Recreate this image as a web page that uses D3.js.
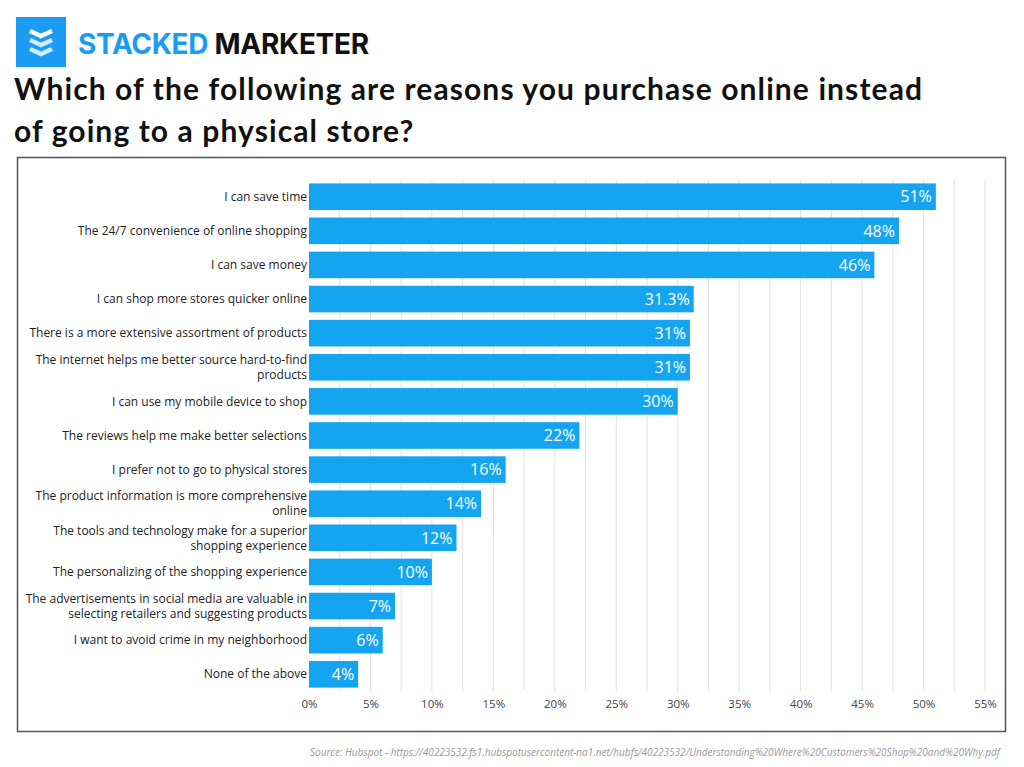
<!DOCTYPE html>
<html lang="en">
<head>
  <meta charset="UTF-8">
  <title>Reasons to purchase online</title>
  <style>
    body { margin: 0; background: #fff; font-family: "Open Sans", sans-serif; }
  </style>
</head>
<body>
  <svg id="chart" width="1024" height="767"></svg>
  <script src="https://cdnjs.cloudflare.com/ajax/libs/d3/7.8.5/d3.min.js"></script>
  <script>
    const categories = [
      'I can save time',
      'The 24/7 convenience of online shopping',
      'I can save money',
      'I can shop more stores quicker online',
      'There is a more extensive assortment of products',
      'The internet helps me better source hard-to-find|products',
      'I can use my mobile device to shop',
      'The reviews help me make better selections',
      'I prefer not to go to physical stores',
      'The product information is more comprehensive|online',
      'The tools and technology make for a superior|shopping experience',
      'The personalizing of the shopping experience',
      'The advertisements in social media are valuable in|selecting retailers and suggesting products',
      'I want to avoid crime in my neighborhood',
      'None of the above'
    ]
    const values = [51, 48, 46, 31.3, 31, 31, 30, 22, 16, 14, 12, 10, 7, 6, 4]
    const ticks = [0, 5, 10, 15, 20, 25, 30, 35, 40, 45, 50, 55]

    const svg = d3.select('#chart')

    // header: logo + title
    const logo = svg.append('g').attr('transform', 'translate(16,17)')
    logo.append('rect').attr('width', 50).attr('height', 50).attr('fill', '#1a9cf2')
    ;[0, 9, 18].forEach(function (dy) {
      logo.append('path')
        .attr('d', `M14 ${14 + dy} L25 ${19 + dy} L36 ${14 + dy}`)
        .attr('fill', 'none').attr('stroke', '#fff').attr('stroke-width', 4.5)
        .attr('opacity', dy === 0 ? 1 : 0.8)
    })
    const brand = svg.append('text').attr('x', 78).attr('y', 54)
      .style('font-family', 'Inter, sans-serif').style('font-size', '28px').style('font-weight', 700)
      .style('letter-spacing', '-0.3px')
    brand.append('tspan').attr('fill', '#1a9cf2').text('STACKED ')
    brand.append('tspan').attr('fill', '#111').text('MARKETER')

    const titleLines = ['Which of the following are reasons you purchase online instead', 'of going to a physical store?']
    titleLines.forEach(function (t, i) {
      svg.append('text').attr('x', 14).attr('y', 100 + i * 42)
        .style('font-family', 'Lato, sans-serif').style('font-size', '30px').style('font-weight', 700)
        .style('letter-spacing', '1.1px')
        .attr('fill', '#111').text(t)
    })

    // chart frame
    svg.append('rect').attr('x', 17.5).attr('y', 157.5).attr('width', 988).attr('height', 574)
      .attr('fill', '#fff').attr('stroke', '#555').attr('stroke-width', 1.5)

    const x = d3.scaleLinear().domain([0, 55]).range([309, 985])
    const y = d3.scaleBand().domain(categories).range([180, 691]).paddingInner(0.22).paddingOuter(0.1)

    // gridlines every 2.5%
    svg.append('g').selectAll('line').data(d3.range(2.5, 55.1, 2.5)).join('line')
      .attr('x1', d => x(d)).attr('x2', d => x(d))
      .attr('y1', 180).attr('y2', 691)
      .attr('stroke', '#e2e2e2').attr('stroke-width', 1)

    // bars
    svg.append('g').selectAll('rect').data(values).join('rect')
      .attr('x', x(0)).attr('y', (d, i) => y(categories[i]))
      .attr('width', d => x(d) - x(0)).attr('height', y.bandwidth())
      .attr('fill', '#15a5f0')

    svg.append('g').selectAll('text').data(values).join('text')
      .attr('x', d => x(d) - 4).attr('y', (d, i) => y(categories[i]) + y.bandwidth() / 2)
      .attr('dy', '0.36em').attr('text-anchor', 'end')
      .attr('fill', '#fff').style('font-size', '16px')
      .text(d => d + '%')

    // category labels
    const labels = svg.append('g').selectAll('text').data(categories).join('text')
      .attr('x', x(0) - 2).attr('text-anchor', 'end')
      .attr('fill', '#222').style('font-size', '12px')
    labels.each(function (d) {
      const parts = d.split('|')
      const cy = y(d) + y.bandwidth() / 2
      const t = d3.select(this).attr('y', cy - (parts.length - 1) * 7.5)
      parts.forEach((p, k) => {
        t.append('tspan').attr('x', x(0) - 2).attr('dy', k === 0 ? '0.35em' : '15px').text(p)
      })
    })

    // x axis
    const axis = svg.append('g').attr('transform', 'translate(0,691)')
      .call(d3.axisBottom(x).tickValues(ticks).tickFormat(d => d + '%').tickSize(0).tickPadding(9))
    axis.select('.domain').remove()
    axis.selectAll('text').style('font-family', '"Open Sans", sans-serif').style('font-size', '11.5px').attr('fill', '#444')

    svg.append('text').attr('x', 1000).attr('y', 756).attr('text-anchor', 'end')
      .style('font-size', '10px').style('font-style', 'italic').attr('fill', '#999')
      .text('Source: Hubspot - https://40223532.fs1.hubspotusercontent-na1.net/hubfs/40223532/Understanding%20Where%20Customers%20Shop%20and%20Why.pdf')
  </script>
</body>
</html>
